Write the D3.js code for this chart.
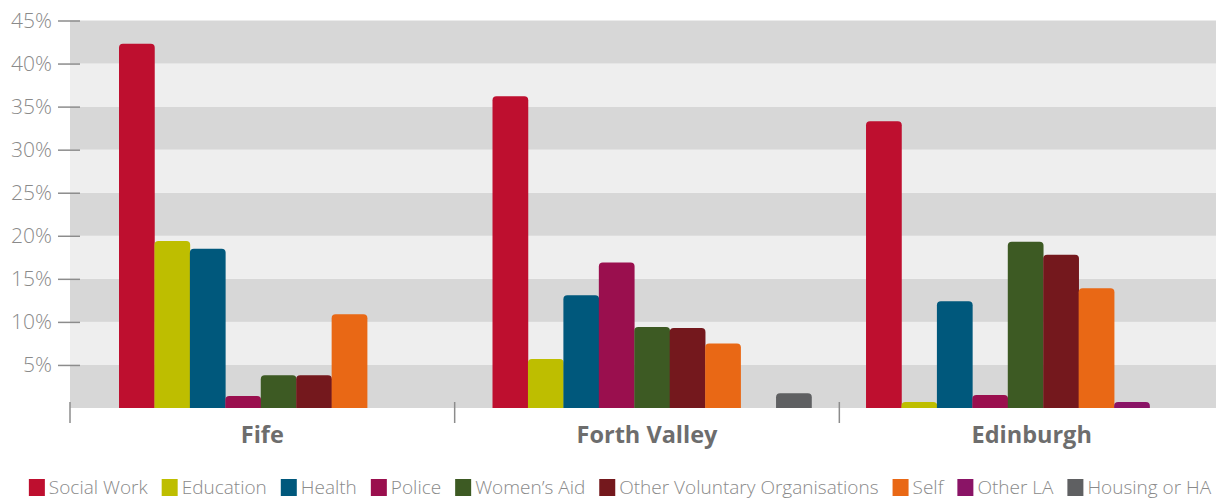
<!DOCTYPE html>
<html>
<head>
<meta charset="utf-8">
<script src="https://cdn.jsdelivr.net/npm/d3@7"></script>
<style>
  body { margin: 0; background: #fff; }
  svg text { font-family: "Open Sans", "DejaVu Sans", sans-serif; }
</style>
</head>
<body>
<div id="chart"></div>
<script>
// data
var regions = ["Fife", "Forth Valley", "Edinburgh"];
var sources = ["Social Work", "Education", "Health", "Police", "Women\u2019s Aid",
               "Other Voluntary Organisations", "Self", "Other LA", "Housing or HA"];
var fife        = [42.3, 19.4, 18.5, 1.4, 3.8, 3.8, 10.9, 0, 0];
var forthValley = [36.2, 5.7, 13.1, 16.9, 9.4, 9.3, 7.5, 0, 1.7];
var edinburgh   = [33.3, 0.7, 12.4, 1.5, 19.3, 17.8, 13.9, 0.7, 0];
var yTicks = [5, 10, 15, 20, 25, 30, 35, 40, 45];
var colors = ["#be0f2f", "#bebe00", "#00587c", "#9a0f4e", "#3d5a23",
              "#74181d", "#e96815", "#8a1466", "#5f6062"];

var values = [fife, forthValley, edinburgh];

var width = 1216,
    height = 501;

var svg = d3.select("#chart").append("svg")
    .attr("width", width)
    .attr("height", height);

var yScale = d3.scaleLinear().domain([0, 45]).range([408, 20.5]);

// background stripes
var stripes = d3.range(0, 45, 5);
svg.selectAll(".stripe")
    .data(stripes)
    .enter()
    .append("rect")
    .attr("class", "stripe")
    .attr("x", 70)
    .attr("width", width - 70)
    .attr("y", function (d) { return yScale(d + 5); })
    .attr("height", function (d) { return yScale(d) - yScale(d + 5); })
    .style("fill", function (d) { return (d / 5) % 2 == 0 ? "#d7d7d7" : "#eeeeee"; });

// y axis: tick lines + labels
var yAxis = d3.axisLeft(yScale)
    .tickValues(yTicks)
    .tickSize(22)
    .tickPadding(6)
    .tickFormat(function (d) { return d + "%"; });

var gy = svg.append("g")
    .attr("transform", "translate(80,0)")
    .call(yAxis);
gy.select(".domain").remove();
gy.selectAll(".tick line").attr("stroke", "#8c8c8c").attr("stroke-width", 1.5);
gy.selectAll(".tick text")
    .attr("fill", "#8a8a8a")
    .style("font-size", "21px")
    .style("font-weight", "300");

// group scale for the axis labels / dividers
var xAxisScale = d3.scaleBand().domain(regions).range([70, 1224]);
// group scale for bars
var xGroup = d3.scaleBand().domain(regions).range([119, 1185]).paddingInner(0.146);
var xBar = d3.scaleBand().domain(sources).range([0, xGroup.bandwidth()]);

function roundTop(x, y, w, h, r) {
  r = Math.min(r, h, w / 2);
  return "M" + x + "," + (y + h) +
    "V" + (y + r) +
    "Q" + x + "," + y + " " + (x + r) + "," + y +
    "H" + (x + w - r) +
    "Q" + (x + w) + "," + y + " " + (x + w) + "," + (y + r) +
    "V" + (y + h) + "Z";
}

var groups = svg.selectAll(".group")
    .data(regions)
    .enter()
    .append("g")
    .attr("class", "group")
    .attr("transform", function (d) { return "translate(" + xGroup(d) + ",0)"; });

groups.selectAll("path")
    .data(function (d, i) {
      return values[i].map(function (v, j) { return { source: sources[j], value: v, idx: j }; })
        .filter(function (e) { return e.value > 0; });
    })
    .enter()
    .append("path")
    .attr("d", function (d) {
      var y = yScale(d.value);
      return roundTop(xBar(d.source), y, xBar.bandwidth() + 0.3, yScale(0) - y, 4);
    })
    .style("fill", function (d) { return colors[d.idx]; });

// dividers
svg.selectAll(".divider")
    .data(regions)
    .enter()
    .append("line")
    .attr("class", "divider")
    .attr("x1", function (d) { return xAxisScale(d); })
    .attr("x2", function (d) { return xAxisScale(d); })
    .attr("y1", 402)
    .attr("y2", 423)
    .attr("stroke", "#8c8c8c")
    .attr("stroke-width", 1.5);

svg.selectAll(".region")
    .data(regions)
    .enter()
    .append("text")
    .attr("class", "region")
    .attr("x", function (d) { return xAxisScale(d) + xAxisScale.bandwidth() / 2; })
    .attr("y", 443)
    .attr("text-anchor", "middle")
    .style("font-size", "23.5px")
    .style("font-weight", "bold")
    .attr("fill", "#6d6d6d")
    .text(function (d) { return d; });

// legend
var legend = svg.append("g").attr("class", "legend");
var items = legend.selectAll("g")
    .data(sources)
    .enter()
    .append("g");
items.append("rect")
    .attr("width", 16)
    .attr("height", 17)
    .attr("y", 479)
    .style("fill", function (d, i) { return colors[i]; });
items.append("text")
    .attr("x", 20)
    .attr("y", 494)
    .attr("fill", "#8a8a8a")
    .style("font-size", "19px")
    .style("font-weight", "300")
    .text(function (d) { return d; });

var pos = 0, gap = 14;
var offsets = [];
items.each(function () {
  offsets.push(pos);
  pos += 20 + this.querySelector("text").getComputedTextLength() + gap;
});
var total = pos - gap;
var start = 620 - total / 2;
items.attr("transform", function (d, i) { return "translate(" + (start + offsets[i]) + ",0)"; });
</script>
</body>
</html>
